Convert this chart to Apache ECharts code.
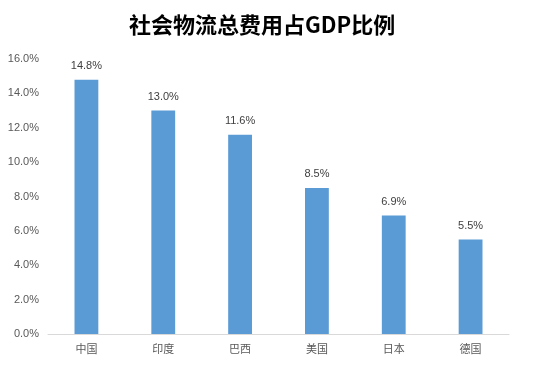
<!DOCTYPE html>
<html><head><meta charset="utf-8">
<script src="https://cdn.jsdelivr.net/npm/echarts@6/dist/echarts.min.js"></script>
<style>html,body{margin:0;padding:0;background:#fff}#c{width:546px;height:367px}</style>
</head><body><div id="c"></div>
<script>
const categories = ['中国','印度','巴西','美国','日本','德国'];
const values = [14.8, 13.0, 11.6, 8.5, 6.9, 5.5];
const titleText = '社会物流总费用占GDP比例';
const chart = echarts.init(document.getElementById('c'));
chart.setOption({
  animation: false,
  title: {text: titleText, left: 124, top: 9, textStyle: {fontFamily: 'Noto Sans CJK SC', fontSize: 22, fontWeight: 'bold', color: '#000'}},
  grid: {left: 48, right: 37, top: 59, bottom: 33},
  xAxis: {type: 'category', data: categories,
    axisLine: {lineStyle: {color: '#d9d9d9'}}, axisTick: {show: false},
    axisLabel: {color: '#595959', fontSize: 11, fontFamily: 'Noto Sans CJK SC', margin: 9}},
  yAxis: {type: 'value', min: 0, max: 16, interval: 2,
    splitLine: {show: false}, axisLine: {show: false}, axisTick: {show: false},
    axisLabel: {color: '#595959', fontSize: 11, fontFamily: 'Liberation Sans', margin: 9, formatter: v => v.toFixed(1) + '%'}},
  series: [{type: 'bar', data: values, barWidth: '31%', itemStyle: {color: '#5B9BD5'},
    label: {show: true, position: 'top', distance: 8, color: '#404040', fontSize: 11, fontFamily: 'Liberation Sans', formatter: p => p.value.toFixed(1) + '%'}}]
});
</script></body></html>
